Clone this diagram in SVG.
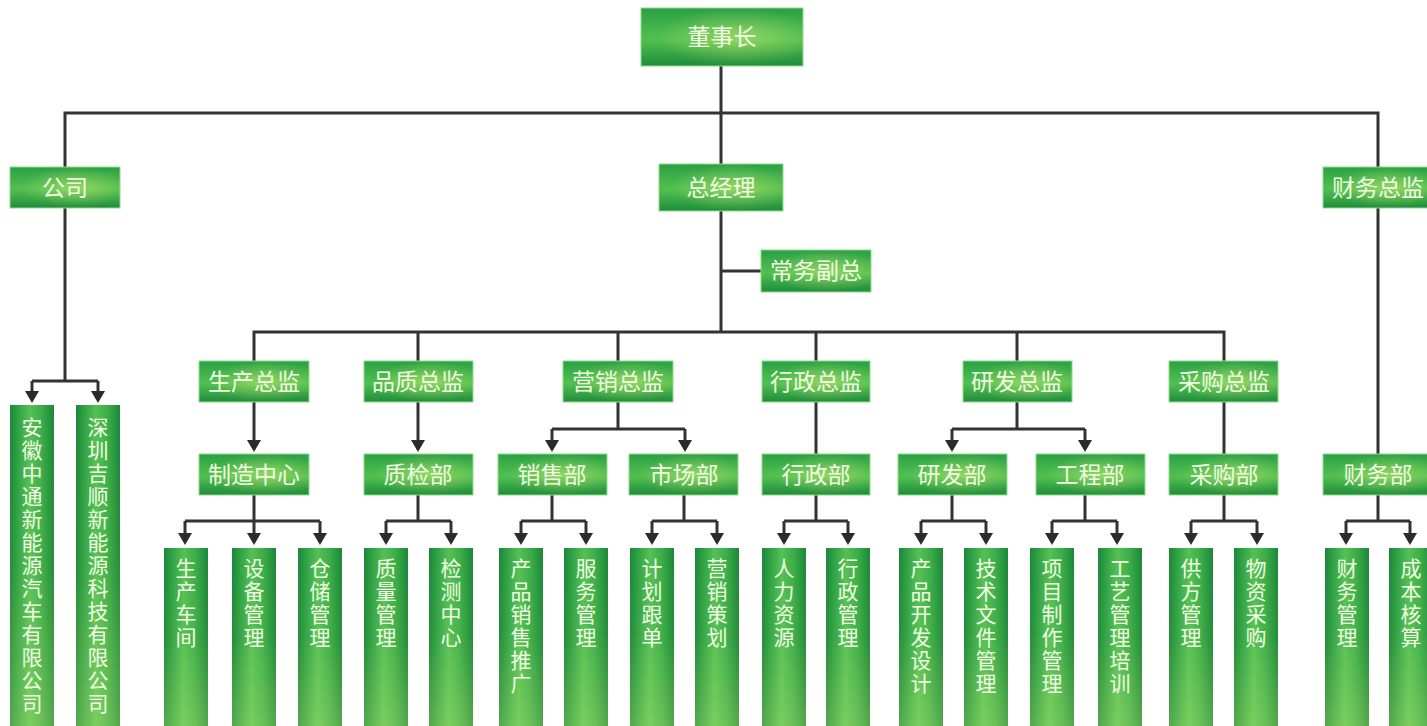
<svg xmlns="http://www.w3.org/2000/svg" width="1427" height="726" viewBox="0 0 1427 726">
<defs>
<linearGradient id="gBox" x1="0" y1="0" x2="0" y2="1">
<stop offset="0" stop-color="#2a9f45"/>
<stop offset="0.45" stop-color="#4cbb4e"/>
<stop offset="0.55" stop-color="#52bf50"/>
<stop offset="1" stop-color="#1e8c3b"/>
</linearGradient>
<radialGradient id="gHi" cx="0.6" cy="0.5" r="0.5">
<stop offset="0" stop-color="#e2f27a" stop-opacity="0.45"/>
<stop offset="1" stop-color="#e2f27a" stop-opacity="0"/>
</radialGradient>
<linearGradient id="gCol" x1="0" y1="0" x2="1" y2="0">
<stop offset="0" stop-color="#1b8738"/>
<stop offset="0.18" stop-color="#2fa145"/>
<stop offset="0.45" stop-color="#55c053"/>
<stop offset="0.72" stop-color="#3aad49"/>
<stop offset="1" stop-color="#1b8738"/>
</linearGradient>
<linearGradient id="gColHi" x1="0" y1="0" x2="0" y2="1">
<stop offset="0" stop-color="#d6ee7a" stop-opacity="0"/>
<stop offset="0.5" stop-color="#d6ee7a" stop-opacity="0.05"/>
<stop offset="1" stop-color="#d6ee7a" stop-opacity="0.3"/>
</linearGradient>
<marker id="arr" markerUnits="userSpaceOnUse" markerWidth="12" markerHeight="14" refX="2" refY="7" orient="auto">
<path d="M0,0 L12,7 L0,14 z" fill="#2b2b2b"/>
</marker>
</defs>
<style>
.box{fill:url(#gBox);stroke:#8fdc86;stroke-width:1}
.hi{fill:url(#gHi)}
.col{fill:url(#gCol)}
.colhi{fill:url(#gColHi)}
.t{font-family:"Noto Sans CJK SC","Noto Sans",sans-serif;font-size:23px;fill:#effde2;text-anchor:middle}
.v{font-family:"Noto Sans CJK SC","Noto Sans",sans-serif;font-size:21px;fill:#effde2;text-anchor:middle}
.ln{fill:none;stroke:#333;stroke-width:3}
.ar{fill:none;stroke:#333;stroke-width:3;marker-end:url(#arr)}
</style>
<rect width="1427" height="726" fill="#ffffff"/>

<g id="connectors">
<path class="ln" d="M721,66 V164 M721,211 V332 M721,271 H761"/>
<path class="ln" d="M65,167 V113 H1378 V167"/>
<path class="ln" d="M65,208 V381 M32,381 H98"/>
<path class="ar" d="M32,381 V393"/>
<path class="ar" d="M98,381 V393"/>
<path class="ln" d="M254,361 V332 H1224 V361 M418,332 V361 M618,332 V361 M816,332 V361 M1017,332 V361"/>
<path class="ar" d="M254,402 V442"/>
<path class="ln" d="M254,495 V521 M185,521 H320"/>
<path class="ar" d="M185,521 V535"/>
<path class="ar" d="M254,521 V535"/>
<path class="ar" d="M320,521 V535"/>
<path class="ar" d="M418,402 V442"/>
<path class="ln" d="M418,495 V521 M386,521 H451"/>
<path class="ar" d="M386,521 V535"/>
<path class="ar" d="M451,521 V535"/>
<path class="ln" d="M618,402 V429 M552,429 H685"/>
<path class="ar" d="M552,429 V442"/>
<path class="ar" d="M685,429 V442"/>
<path class="ln" d="M552,495 V521 M521,521 H586"/>
<path class="ar" d="M521,521 V535"/>
<path class="ar" d="M586,521 V535"/>
<path class="ln" d="M684,495 V521 M652,521 H717"/>
<path class="ar" d="M652,521 V535"/>
<path class="ar" d="M717,521 V535"/>
<path class="ln" d="M816,402 V454 M816,495 V521 M784,521 H848"/>
<path class="ar" d="M784,521 V535"/>
<path class="ar" d="M848,521 V535"/>
<path class="ln" d="M1017,402 V429 M952,429 H1085"/>
<path class="ar" d="M952,429 V442"/>
<path class="ar" d="M1085,429 V442"/>
<path class="ln" d="M952,495 V521 M921,521 H986"/>
<path class="ar" d="M921,521 V535"/>
<path class="ar" d="M986,521 V535"/>
<path class="ln" d="M1085,495 V521 M1052,521 H1117"/>
<path class="ar" d="M1052,521 V535"/>
<path class="ar" d="M1117,521 V535"/>
<path class="ln" d="M1224,402 V454 M1224,495 V521 M1191,521 H1257"/>
<path class="ar" d="M1191,521 V535"/>
<path class="ar" d="M1257,521 V535"/>
<path class="ln" d="M1378,208 V454 M1378,495 V521 M1346,521 H1410"/>
<path class="ar" d="M1346,521 V535"/>
<path class="ar" d="M1410,521 V535"/>
</g>

<g id="n-dongshizhang"><rect class="box" x="641" y="8" width="162" height="58"/><rect class="hi" x="641" y="8" width="162" height="58"/><text class="t" x="722" y="45">董事长</text></g>
<g id="n-gongsi"><rect class="box" x="10" y="167" width="110" height="41"/><rect class="hi" x="10" y="167" width="110" height="41"/><text class="t" x="65" y="196">公司</text></g>
<g id="n-zongjingli"><rect class="box" x="659" y="164" width="124" height="47"/><rect class="hi" x="659" y="164" width="124" height="47"/><text class="t" x="721" y="196">总经理</text></g>
<g id="n-caiwuzongjian"><rect class="box" x="1323" y="167" width="110" height="41"/><rect class="hi" x="1323" y="167" width="110" height="41"/><text class="t" x="1378" y="196">财务总监</text></g>
<g id="n-changwufuzong"><rect class="box" x="761" y="250" width="110" height="42"/><rect class="hi" x="761" y="250" width="110" height="42"/><text class="t" x="816" y="279">常务副总</text></g>

<g id="n-shengchanzongjian"><rect class="box" x="199" y="361" width="110" height="41"/><rect class="hi" x="199" y="361" width="110" height="41"/><text class="t" x="254" y="390">生产总监</text></g>
<g id="n-pinzhizongjian"><rect class="box" x="364" y="361" width="109" height="41"/><rect class="hi" x="364" y="361" width="109" height="41"/><text class="t" x="418" y="390">品质总监</text></g>
<g id="n-yingxiaozongjian"><rect class="box" x="563" y="361" width="110" height="41"/><rect class="hi" x="563" y="361" width="110" height="41"/><text class="t" x="618" y="390">营销总监</text></g>
<g id="n-xingzhengzongjian"><rect class="box" x="762" y="361" width="108" height="41"/><rect class="hi" x="762" y="361" width="108" height="41"/><text class="t" x="816" y="390">行政总监</text></g>
<g id="n-yanfazongjian"><rect class="box" x="963" y="361" width="109" height="41"/><rect class="hi" x="963" y="361" width="109" height="41"/><text class="t" x="1017" y="390">研发总监</text></g>
<g id="n-caigouzongjian"><rect class="box" x="1169" y="361" width="109" height="41"/><rect class="hi" x="1169" y="361" width="109" height="41"/><text class="t" x="1224" y="390">采购总监</text></g>

<g id="n-zhizaozhongxin"><rect class="box" x="199" y="454" width="110" height="41"/><rect class="hi" x="199" y="454" width="110" height="41"/><text class="t" x="254" y="483">制造中心</text></g>
<g id="n-zhijianbu"><rect class="box" x="364" y="454" width="109" height="41"/><rect class="hi" x="364" y="454" width="109" height="41"/><text class="t" x="418" y="483">质检部</text></g>
<g id="n-xiaoshoubu"><rect class="box" x="498" y="454" width="109" height="41"/><rect class="hi" x="498" y="454" width="109" height="41"/><text class="t" x="552" y="483">销售部</text></g>
<g id="n-shichangbu"><rect class="box" x="629" y="454" width="109" height="41"/><rect class="hi" x="629" y="454" width="109" height="41"/><text class="t" x="684" y="483">市场部</text></g>
<g id="n-xingzhengbu"><rect class="box" x="762" y="454" width="108" height="41"/><rect class="hi" x="762" y="454" width="108" height="41"/><text class="t" x="816" y="483">行政部</text></g>
<g id="n-yanfabu"><rect class="box" x="898" y="454" width="109" height="41"/><rect class="hi" x="898" y="454" width="109" height="41"/><text class="t" x="952" y="483">研发部</text></g>
<g id="n-gongchengbu"><rect class="box" x="1036" y="454" width="109" height="41"/><rect class="hi" x="1036" y="454" width="109" height="41"/><text class="t" x="1090" y="483">工程部</text></g>
<g id="n-caigoubu"><rect class="box" x="1169" y="454" width="109" height="41"/><rect class="hi" x="1169" y="454" width="109" height="41"/><text class="t" x="1224" y="483">采购部</text></g>
<g id="n-caiwubu"><rect class="box" x="1323" y="454" width="110" height="41"/><rect class="hi" x="1323" y="454" width="110" height="41"/><text class="t" x="1378" y="483">财务部</text></g>

<g id="n-anhui"><rect class="col" x="10" y="405" width="44" height="321"/><rect class="colhi" x="10" y="405" width="44" height="321"/>
<text class="v"><tspan x="32" y="435">安</tspan><tspan x="32" y="458">徽</tspan><tspan x="32" y="481">中</tspan><tspan x="32" y="504">通</tspan><tspan x="32" y="527">新</tspan><tspan x="32" y="550">能</tspan><tspan x="32" y="573">源</tspan><tspan x="32" y="596">汽</tspan><tspan x="32" y="619">车</tspan><tspan x="32" y="642">有</tspan><tspan x="32" y="665">限</tspan><tspan x="32" y="688">公</tspan><tspan x="32" y="711">司</tspan></text></g>
<g id="n-shenzhen"><rect class="col" x="76" y="405" width="44" height="321"/><rect class="colhi" x="76" y="405" width="44" height="321"/>
<text class="v"><tspan x="98" y="435">深</tspan><tspan x="98" y="458">圳</tspan><tspan x="98" y="481">吉</tspan><tspan x="98" y="504">顺</tspan><tspan x="98" y="527">新</tspan><tspan x="98" y="550">能</tspan><tspan x="98" y="573">源</tspan><tspan x="98" y="596">科</tspan><tspan x="98" y="619">技</tspan><tspan x="98" y="642">有</tspan><tspan x="98" y="665">限</tspan><tspan x="98" y="688">公</tspan><tspan x="98" y="711">司</tspan></text></g>

<g id="n-shengchanchejian"><rect class="col" x="164" y="548" width="44" height="178"/><rect class="colhi" x="164" y="548" width="44" height="178"/><text class="v"><tspan x="186" y="576">生</tspan><tspan x="186" y="599">产</tspan><tspan x="186" y="622">车</tspan><tspan x="186" y="645">间</tspan></text></g>
<g id="n-shebeiguanli"><rect class="col" x="232" y="548" width="44" height="178"/><rect class="colhi" x="232" y="548" width="44" height="178"/><text class="v"><tspan x="254" y="576">设</tspan><tspan x="254" y="599">备</tspan><tspan x="254" y="622">管</tspan><tspan x="254" y="645">理</tspan></text></g>
<g id="n-cangchuguanli"><rect class="col" x="298" y="548" width="44" height="178"/><rect class="colhi" x="298" y="548" width="44" height="178"/><text class="v"><tspan x="320" y="576">仓</tspan><tspan x="320" y="599">储</tspan><tspan x="320" y="622">管</tspan><tspan x="320" y="645">理</tspan></text></g>
<g id="n-zhiliangguanli"><rect class="col" x="364" y="548" width="44" height="178"/><rect class="colhi" x="364" y="548" width="44" height="178"/><text class="v"><tspan x="386" y="576">质</tspan><tspan x="386" y="599">量</tspan><tspan x="386" y="622">管</tspan><tspan x="386" y="645">理</tspan></text></g>
<g id="n-jiancezhongxin"><rect class="col" x="429" y="548" width="44" height="178"/><rect class="colhi" x="429" y="548" width="44" height="178"/><text class="v"><tspan x="451" y="576">检</tspan><tspan x="451" y="599">测</tspan><tspan x="451" y="622">中</tspan><tspan x="451" y="645">心</tspan></text></g>
<g id="n-chanpinxiaoshoutuiguang"><rect class="col" x="499" y="548" width="44" height="178"/><rect class="colhi" x="499" y="548" width="44" height="178"/><text class="v"><tspan x="521" y="576">产</tspan><tspan x="521" y="599">品</tspan><tspan x="521" y="622">销</tspan><tspan x="521" y="645">售</tspan><tspan x="521" y="668">推</tspan><tspan x="521" y="691">广</tspan></text></g>
<g id="n-fuwuguanli"><rect class="col" x="564" y="548" width="44" height="178"/><rect class="colhi" x="564" y="548" width="44" height="178"/><text class="v"><tspan x="586" y="576">服</tspan><tspan x="586" y="599">务</tspan><tspan x="586" y="622">管</tspan><tspan x="586" y="645">理</tspan></text></g>
<g id="n-jihuagendan"><rect class="col" x="630" y="548" width="44" height="178"/><rect class="colhi" x="630" y="548" width="44" height="178"/><text class="v"><tspan x="652" y="576">计</tspan><tspan x="652" y="599">划</tspan><tspan x="652" y="622">跟</tspan><tspan x="652" y="645">单</tspan></text></g>
<g id="n-yingxiaocehua"><rect class="col" x="695" y="548" width="44" height="178"/><rect class="colhi" x="695" y="548" width="44" height="178"/><text class="v"><tspan x="717" y="576">营</tspan><tspan x="717" y="599">销</tspan><tspan x="717" y="622">策</tspan><tspan x="717" y="645">划</tspan></text></g>
<g id="n-renliziyuan"><rect class="col" x="762" y="548" width="44" height="178"/><rect class="colhi" x="762" y="548" width="44" height="178"/><text class="v"><tspan x="784" y="576">人</tspan><tspan x="784" y="599">力</tspan><tspan x="784" y="622">资</tspan><tspan x="784" y="645">源</tspan></text></g>
<g id="n-xingzhengguanli"><rect class="col" x="826" y="548" width="44" height="178"/><rect class="colhi" x="826" y="548" width="44" height="178"/><text class="v"><tspan x="848" y="576">行</tspan><tspan x="848" y="599">政</tspan><tspan x="848" y="622">管</tspan><tspan x="848" y="645">理</tspan></text></g>
<g id="n-chanpinkaifasheji"><rect class="col" x="899" y="548" width="44" height="178"/><rect class="colhi" x="899" y="548" width="44" height="178"/><text class="v"><tspan x="921" y="576">产</tspan><tspan x="921" y="599">品</tspan><tspan x="921" y="622">开</tspan><tspan x="921" y="645">发</tspan><tspan x="921" y="668">设</tspan><tspan x="921" y="691">计</tspan></text></g>
<g id="n-jishuwenjianguanli"><rect class="col" x="964" y="548" width="44" height="178"/><rect class="colhi" x="964" y="548" width="44" height="178"/><text class="v"><tspan x="986" y="576">技</tspan><tspan x="986" y="599">术</tspan><tspan x="986" y="622">文</tspan><tspan x="986" y="645">件</tspan><tspan x="986" y="668">管</tspan><tspan x="986" y="691">理</tspan></text></g>
<g id="n-xiangmuzhizuoguanli"><rect class="col" x="1030" y="548" width="44" height="178"/><rect class="colhi" x="1030" y="548" width="44" height="178"/><text class="v"><tspan x="1052" y="576">项</tspan><tspan x="1052" y="599">目</tspan><tspan x="1052" y="622">制</tspan><tspan x="1052" y="645">作</tspan><tspan x="1052" y="668">管</tspan><tspan x="1052" y="691">理</tspan></text></g>
<g id="n-gongyiguanlipeixun"><rect class="col" x="1098" y="548" width="44" height="178"/><rect class="colhi" x="1098" y="548" width="44" height="178"/><text class="v"><tspan x="1120" y="576">工</tspan><tspan x="1120" y="599">艺</tspan><tspan x="1120" y="622">管</tspan><tspan x="1120" y="645">理</tspan><tspan x="1120" y="668">培</tspan><tspan x="1120" y="691">训</tspan></text></g>
<g id="n-gongfangguanli"><rect class="col" x="1169" y="548" width="44" height="178"/><rect class="colhi" x="1169" y="548" width="44" height="178"/><text class="v"><tspan x="1191" y="576">供</tspan><tspan x="1191" y="599">方</tspan><tspan x="1191" y="622">管</tspan><tspan x="1191" y="645">理</tspan></text></g>
<g id="n-wuzicaigou"><rect class="col" x="1234" y="548" width="44" height="178"/><rect class="colhi" x="1234" y="548" width="44" height="178"/><text class="v"><tspan x="1256" y="576">物</tspan><tspan x="1256" y="599">资</tspan><tspan x="1256" y="622">采</tspan><tspan x="1256" y="645">购</tspan></text></g>
<g id="n-caiwuguanli"><rect class="col" x="1325" y="548" width="44" height="178"/><rect class="colhi" x="1325" y="548" width="44" height="178"/><text class="v"><tspan x="1347" y="576">财</tspan><tspan x="1347" y="599">务</tspan><tspan x="1347" y="622">管</tspan><tspan x="1347" y="645">理</tspan></text></g>
<g id="n-chengbenhesuan"><rect class="col" x="1389" y="548" width="44" height="178"/><rect class="colhi" x="1389" y="548" width="44" height="178"/><text class="v"><tspan x="1411" y="576">成</tspan><tspan x="1411" y="599">本</tspan><tspan x="1411" y="622">核</tspan><tspan x="1411" y="645">算</tspan></text></g>
</svg>
